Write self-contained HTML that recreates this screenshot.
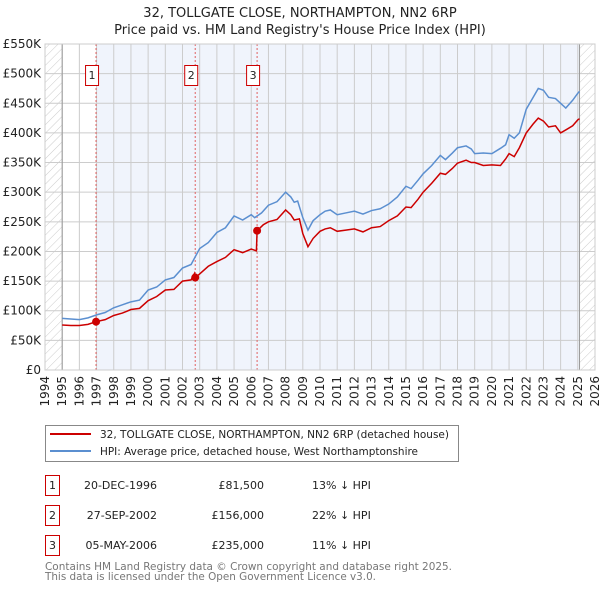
<!DOCTYPE html>
<html><head><meta charset="utf-8"><style>
body{margin:0;background:#fff;}
svg{display:block;font-family:"DejaVu Sans","Liberation Sans",sans-serif;}
</style></head><body>
<svg id="chart" width="600" height="590" viewBox="0 0 600 590" xmlns="http://www.w3.org/2000/svg">
<defs>
<pattern id="hatch" patternUnits="userSpaceOnUse" width="6" height="6" patternTransform="rotate(45)">
<line x1="0" y1="0" x2="0" y2="6" stroke="#ccc" stroke-width="1"/>
</pattern>
</defs>
<text x="300" y="17" text-anchor="middle" font-size="13" fill="#222">32, TOLLGATE CLOSE, NORTHAMPTON, NN2 6RP</text>
<text x="300" y="34" text-anchor="middle" font-size="13" fill="#222">Price paid vs. HM Land Registry's House Price Index (HPI)</text>
<g id="plot"></g>
<g>
<rect x="45.5" y="425.5" width="413" height="36" fill="#fff" stroke="#888"/>
<line x1="50" y1="434" x2="91" y2="434" stroke="#cc0000" stroke-width="2"/>
<text x="100" y="438" font-size="11" fill="#222" textLength="349" lengthAdjust="spacingAndGlyphs">32, TOLLGATE CLOSE, NORTHAMPTON, NN2 6RP (detached house)</text>
<line x1="50" y1="451" x2="91" y2="451" stroke="#5b8fd0" stroke-width="2"/>
<text x="100" y="455" font-size="11" fill="#222" textLength="318" lengthAdjust="spacingAndGlyphs">HPI: Average price, detached house, West Northamptonshire</text>
</g>
<g font-size="11" fill="#222">
<rect x="45.5" y="475.5" width="14" height="20" fill="#fff" stroke="#c00"/><text x="52.5" y="489" text-anchor="middle">1</text>
<text x="157" y="489" text-anchor="end">20-DEC-1996</text><text x="264" y="489" text-anchor="end">£81,500</text><text x="312" y="489">13% ↓ HPI</text>
<rect x="45.5" y="505.5" width="14" height="20" fill="#fff" stroke="#c00"/><text x="52.5" y="519" text-anchor="middle">2</text>
<text x="157" y="519" text-anchor="end">27-SEP-2002</text><text x="264" y="519" text-anchor="end">£156,000</text><text x="312" y="519">22% ↓ HPI</text>
<rect x="45.5" y="535.5" width="14" height="20" fill="#fff" stroke="#c00"/><text x="52.5" y="549" text-anchor="middle">3</text>
<text x="157" y="549" text-anchor="end">05-MAY-2006</text><text x="264" y="549" text-anchor="end">£235,000</text><text x="312" y="549">11% ↓ HPI</text>
</g>
<text x="45" y="570" font-size="11" fill="#777" textLength="407" lengthAdjust="spacingAndGlyphs">Contains HM Land Registry data © Crown copyright and database right 2025.</text>
<text x="45" y="580" font-size="11" fill="#777" textLength="331" lengthAdjust="spacingAndGlyphs">This data is licensed under the Open Government Licence v3.0.</text>
</svg>
<script>
const yTicks=[0,50,100,150,200,250,300,350,400,450,500,550];
const yTickLabels=["£0","£50K","£100K","£150K","£200K","£250K","£300K","£350K","£400K","£450K","£500K","£550K"];
const xYears=[1994,1995,1996,1997,1998,1999,2000,2001,2002,2003,2004,2005,2006,2007,2008,2009,2010,2011,2012,2013,2014,2015,2016,2017,2018,2019,2020,2021,2022,2023,2024,2025,2026];
const hpiT=[1995,1995.5,1996,1996.5,1997,1997.5,1998,1998.5,1999,1999.5,2000,2000.5,2001,2001.5,2002,2002.5,2003,2003.5,2004,2004.5,2005,2005.5,2006,2006.2,2006.6,2007,2007.5,2008,2008.3,2008.5,2008.7,2009,2009.3,2009.6,2010,2010.3,2010.6,2011,2011.5,2012,2012.5,2013,2013.5,2014,2014.5,2015,2015.3,2015.7,2016,2016.5,2017,2017.3,2017.7,2018,2018.5,2018.8,2019,2019.5,2020,2020.5,2020.8,2021,2021.3,2021.6,2022,2022.4,2022.7,2023,2023.3,2023.7,2024,2024.3,2024.7,2025,2025.1];
const hpiV=[87,86,85,88,93,97,105,110,115,118,135,140,152,156,172,178,205,215,232,240,260,253,262,257,265,278,284,300,292,283,285,257,236,252,262,268,270,262,265,268,263,269,272,280,292,310,306,320,331,345,362,355,366,375,378,373,365,366,365,374,380,397,391,400,440,460,475,472,460,458,450,442,455,467,470];
const ppT=[1995,1995.5,1996,1996.5,1996.97,1997.5,1998,1998.5,1999,1999.5,2000,2000.5,2001,2001.5,2002,2002.5,2002.7,2002.74,2003,2003.5,2004,2004.5,2005,2005.5,2006,2006.3,2006.34,2006.7,2007,2007.5,2008,2008.3,2008.5,2008.8,2009,2009.3,2009.6,2010,2010.3,2010.6,2011,2011.5,2012,2012.5,2013,2013.5,2014,2014.5,2015,2015.3,2015.7,2016,2016.5,2017,2017.3,2017.7,2018,2018.5,2018.8,2019,2019.5,2020,2020.5,2020.8,2021,2021.3,2021.6,2022,2022.4,2022.7,2023,2023.3,2023.7,2024,2024.3,2024.7,2025,2025.1];
const ppV=[76,75,75,77,81.5,85,92,96,102,104,117,124,135,136,150,152,163,156,162,175,183,190,203,198,204,201,235,245,250,254,270,262,253,255,230,208,222,234,238,240,234,236,238,233,240,242,252,260,275,274,288,300,315,332,330,340,349,354,350,350,345,346,345,356,365,360,375,400,415,425,420,410,412,400,405,412,422,424];
const saleT=[1996.97,2002.74,2006.34];
const saleV=[81.5,156,235];
const saleLabels=["1","2","3"];

const L=45,R=595,T=44,B=370;
const x=t=>L+(t-1994)*(R-L)/32;
const y=v=>B-v*(B-T)/550;
const NS="http://www.w3.org/2000/svg";
const plot=document.getElementById('plot');
function mk(tag,attrs,parent){const e=document.createElementNS(NS,tag);for(const k in attrs)e.setAttribute(k,attrs[k]);(parent||plot).appendChild(e);return e;}

let r=mk('rect',{x:L,y:T,width:R-L,height:B-T,fill:'#fff'});


r=mk('rect',{x:x(saleT[0]),y:T,width:x(2025.1)-x(saleT[0]),height:B-T,fill:'#f0f4fc'});


r=mk('rect',{x:L,y:T,width:x(1995)-L,height:B-T,fill:'url(#hatch)'});


r=mk('rect',{x:x(2025.1),y:T,width:R-x(2025.1),height:B-T,fill:'url(#hatch)'});



yTicks.forEach((v,i)=>{
 const g=mk('line',{x1:L,x2:R,y1:y(v),y2:y(v),stroke:'#cccccc','stroke-width':1});
 
 
 const t=mk('text',{x:L-4,y:y(v)+4,'text-anchor':'end','font-size':12,fill:'#222'});
 t.textContent=yTickLabels[i];
 
 
});
xYears.forEach(yr=>{
 const g=mk('line',{x1:x(yr),x2:x(yr),y1:T,y2:B,stroke:'#cccccc','stroke-width':1});
 
 
 const t=mk('text',{x:0,y:0,'text-anchor':'end','font-size':12,fill:'#222',transform:`translate(${x(yr)+4},${B+6}) rotate(-90)`});
 t.textContent=yr;
 
 
});
let ax=mk('line',{x1:x(1995),x2:x(1995),y1:T,y2:B,stroke:'#999','stroke-width':1});


ax=mk('line',{x1:x(2025.1),x2:x(2025.1),y1:T,y2:B,stroke:'#999','stroke-width':1});



saleT.forEach((t,i)=>{
 const l=mk('line',{x1:x(t),x2:x(t),y1:T,y2:B,stroke:'#e06060','stroke-width':1,'stroke-dasharray':'2,2'});
 
 
 const b=mk('rect',{x:x(t)-10.5,y:65.5,width:13,height:20,fill:'#fff',stroke:'#c00'});
 
 
 const tx=mk('text',{x:x(t)-4,y:79,'text-anchor':'middle','font-size':11,fill:'#222'});
 tx.textContent=saleLabels[i];
 
 
});

let p=mk('polyline',{points:hpiT.map((t,i)=>x(t)+','+y(hpiV[i])).join(' '),fill:'none',stroke:'#5b8fd0','stroke-width':1.5});


p=mk('polyline',{points:ppT.map((t,i)=>x(t)+','+y(ppV[i])).join(' '),fill:'none',stroke:'#cc0000','stroke-width':1.5});


saleT.forEach((t,i)=>{
 const c=mk('circle',{cx:x(t),cy:y(saleV[i]),r:4,fill:'#cc0000'});
 
 
});
let f=mk('rect',{x:L,y:T,width:R-L,height:B-T,fill:'none',stroke:'#ccc'});


</script>
</body></html>
